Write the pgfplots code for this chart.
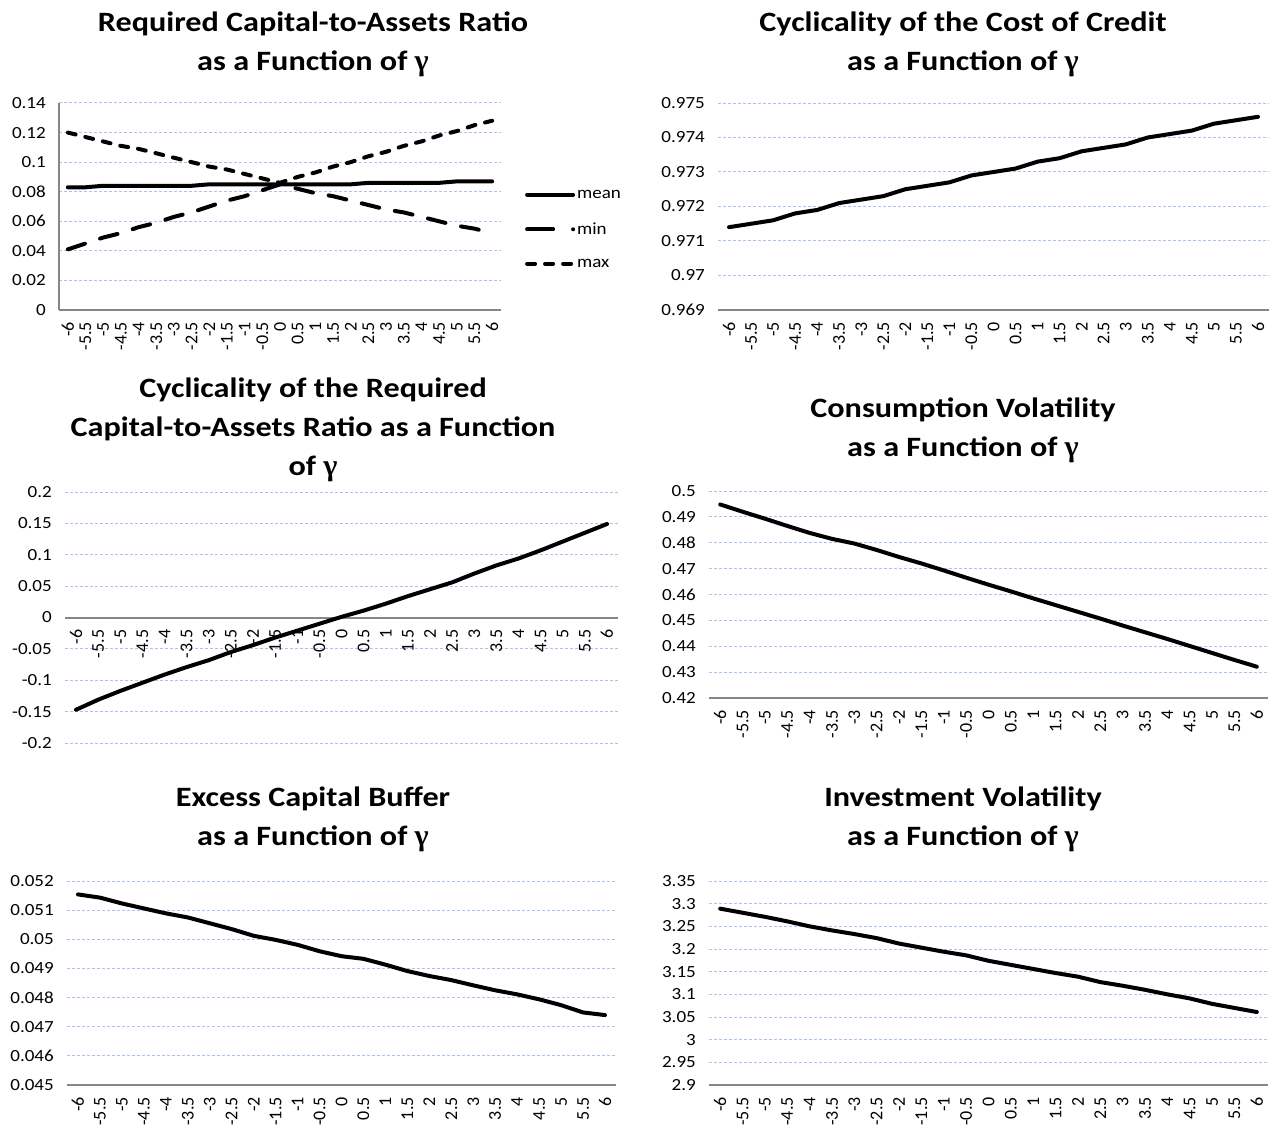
\documentclass[border=0pt]{standalone}
\usepackage{pgfplots}
\pgfplotsset{compat=1.18}
\usepackage{fontspec}
\setmainfont{Carlito}
\newfontfamily\ytf{Carlito}[FakeStretch=1.12]
\newfontfamily\xtf{Carlito}
\newfontfamily\ttf{Carlito}[FakeStretch=1.15]
\newfontfamily\gfont{Liberation Serif}
\newcommand\tickfont{\ytf\fontsize{17}{19}\selectfont}
\newcommand\xtickfont{\xtf\fontsize{18}{19}\selectfont}
\newcommand\titlefont{\ttf\fontsize{28}{39}\selectfont\bfseries}
\newcommand\gam{{\gfont\bfseries\fontsize{30}{39}\selectfont γ}}
\definecolor{gridc}{RGB}{170,195,235}
\definecolor{axc}{RGB}{134,134,134}
\pgfplotsset{
  panel/.style={
    scale only axis,
    xmin=-6.25, xmax=6.25,
    xtick={-6,-5.5,-5,-4.5,-4,-3.5,-3,-2.5,-2,-1.5,-1,-0.5,0,0.5,1,1.5,2,2.5,3,3.5,4,4.5,5,5.5,6},
    xticklabels={-6,-5.5,-5,-4.5,-4,-3.5,-3,-2.5,-2,-1.5,-1,-0.5,0,0.5,1,1.5,2,2.5,3,3.5,4,4.5,5,5.5,6},
    axis x line*=bottom,
    axis y line*=left,
    x axis line style={draw=axc, line width=2pt},
    y axis line style={draw=none},
    major tick length=0pt,
    ymajorgrids,
    scaled y ticks=false,
    grid style={draw=gridc, line width=1pt, dash pattern=on 3pt off 2pt},
    xticklabel style={rotate=90, anchor=east, font=\xtickfont, inner sep=0pt, xshift=-12pt},
    yticklabel style={font=\tickfont, inner sep=0pt, xshift=-13pt},
    anchor=north west,
    clip=false,
    cycle list={{black,mark=none,solid}},
    every axis plot/.append style={black, mark=none, line width=4pt, line join=round, line cap=round},
  }
}
\begin{document}
\begin{tikzpicture}
\path[use as bounding box] (0pt,0pt) rectangle (1274pt,-1137pt);

% Titles
\node[font=\titlefont, align=center] at (313pt,-44pt) {Required Capital-to-Assets Ratio\\as a Function of \gam};
\node[font=\titlefont, align=center] at (963pt,-44pt) {Cyclicality of the Cost of Credit\\as a Function of \gam};
\node[font=\titlefont, align=center] at (313pt,-430pt) {Cyclicality of the Required\\Capital-to-Assets Ratio as a Function\\of \gam};
\node[font=\titlefont, align=center] at (963pt,-430.5pt) {Consumption Volatility\\as a Function of \gam};
\node[font=\titlefont, align=center] at (313pt,-819.5pt) {Excess Capital Buffer\\as a Function of \gam};
\node[font=\titlefont, align=center] at (963pt,-819.5pt) {Investment Volatility\\as a Function of \gam};

% Panel 1
\begin{axis}[panel, at={(59pt,-103pt)}, width=442pt, height=207pt,
  ymin=0, ymax=0.14,
  ytick={0,0.02,0.04,0.06,0.08,0.1,0.12,0.14},
  yticklabels={0,0.02,0.04,0.06,0.08,0.1,0.12,0.14},
  y axis line style={draw=axc, line width=2pt},
  legend style={at={(1.054,0.39)}, anchor=west, draw=none, fill=none, inner sep=0pt,
    font=\tickfont, row sep=19pt, nodes={inner sep=2pt}},
  legend cell align=left,
  legend image code/.code={\draw[#1] (0pt,0pt) -- (46pt,0pt);},
]
\addplot[solid] coordinates {(-6,0.083) (-5.5,0.083) (-5,0.084) (-4.5,0.084) (-4,0.084) (-3.5,0.084) (-3,0.084) (-2.5,0.084) (-2,0.085) (-1.5,0.085) (-1,0.085) (-0.5,0.085) (0,0.085) (0.5,0.085) (1,0.085) (1.5,0.085) (2,0.085) (2.5,0.086) (3,0.086) (3.5,0.086) (4,0.086) (4.5,0.086) (5,0.087) (5.5,0.087) (6,0.087)};
\addlegendentry{mean}
\addplot[dash pattern=on 18pt off 16pt, forget plot] coordinates {(-6,0.041) (-5.5,0.045) (-5,0.049) (-4.5,0.052) (-4,0.056) (-3.5,0.059) (-3,0.063) (-2.5,0.066) (-2,0.070) (-1.5,0.074) (-1,0.077) (-0.5,0.081) (0,0.085) (0.5,0.082) (1,0.079) (1.5,0.077) (2,0.074) (2.5,0.071) (3,0.068) (3.5,0.066) (4,0.063) (4.5,0.060) (5,0.057) (5.5,0.055) (6,0.052)};
\addlegendimage{black, line width=4pt, line cap=round, dash pattern=on 26pt off 20pt on 0pt off 20pt}
\addlegendentry{min}
\addplot[dash pattern=on 8pt off 10pt] coordinates {(-6,0.120) (-5.5,0.117) (-5,0.114) (-4.5,0.111) (-4,0.109) (-3.5,0.106) (-3,0.103) (-2.5,0.100) (-2,0.097) (-1.5,0.095) (-1,0.092) (-0.5,0.089) (0,0.086) (0.5,0.090) (1,0.093) (1.5,0.097) (2,0.100) (2.5,0.104) (3,0.107) (3.5,0.111) (4,0.114) (4.5,0.118) (5,0.121) (5.5,0.125) (6,0.128)};
\addlegendentry{max}
\end{axis}

% Panel 2
\begin{axis}[panel, at={(718pt,-103pt)}, width=551pt, height=207pt,
  ymin=0.969, ymax=0.975,
  ytick={0.969,0.970,0.971,0.972,0.973,0.974,0.975},
  yticklabels={0.969,0.97,0.971,0.972,0.973,0.974,0.975},
]
\addplot coordinates {(-6,0.9714) (-5.5,0.9715) (-5,0.9716) (-4.5,0.9718) (-4,0.9719) (-3.5,0.9721) (-3,0.9722) (-2.5,0.9723) (-2,0.9725) (-1.5,0.9726) (-1,0.9727) (-0.5,0.9729) (0,0.9730) (0.5,0.9731) (1,0.9733) (1.5,0.9734) (2,0.9736) (2.5,0.9737) (3,0.9738) (3.5,0.9740) (4,0.9741) (4.5,0.9742) (5,0.9744) (5.5,0.9745) (6,0.9746)};
\end{axis}

% Panel 3
\begin{axis}[panel, at={(65pt,-492pt)}, width=553pt, height=251pt,
  ymin=-0.2, ymax=0.2,
  axis x line*=middle,
  ytick={-0.2,-0.15,-0.1,-0.05,0,0.05,0.1,0.15,0.2},
  yticklabels={-0.2,-0.15,-0.1,-0.05,0,0.05,0.1,0.15,0.2},
]
\addplot coordinates {(-6,-0.147) (-5.5,-0.131) (-5,-0.117) (-4.5,-0.104) (-4,-0.091) (-3.5,-0.079) (-3,-0.068) (-2.5,-0.055) (-2,-0.044) (-1.5,-0.032) (-1,-0.021) (-0.5,-0.010) (0,0.001) (0.5,0.011) (1,0.022) (1.5,0.034) (2,0.045) (2.5,0.056) (3,0.070) (3.5,0.083) (4,0.094) (4.5,0.107) (5,0.121) (5.5,0.135) (6,0.149)};
\end{axis}

% Panel 4
\begin{axis}[panel, at={(709pt,-491pt)}, width=559pt, height=207pt,
  ymin=0.42, ymax=0.5,
  ytick={0.42,0.43,0.44,0.45,0.46,0.47,0.48,0.49,0.5},
  yticklabels={0.42,0.43,0.44,0.45,0.46,0.47,0.48,0.49,0.5},
]
\addplot coordinates {(-6,0.4948) (-5.5,0.4920) (-5,0.4893) (-4.5,0.4865) (-4,0.4838) (-3.5,0.4815) (-3,0.4797) (-2.5,0.4772) (-2,0.4745) (-1.5,0.4720) (-1,0.4693) (-0.5,0.4665) (0,0.4638) (0.5,0.4612) (1,0.4585) (1.5,0.4559) (2,0.4533) (2.5,0.4507) (3,0.4480) (3.5,0.4454) (4,0.4428) (4.5,0.4401) (5,0.4374) (5.5,0.4347) (6,0.4321)};
\end{axis}

% Panel 5
\begin{axis}[panel, at={(67pt,-881pt)}, width=549pt, height=204pt,
  ymin=0.045, ymax=0.052,
  ytick={0.045,0.046,0.047,0.048,0.049,0.050,0.051,0.052},
  yticklabels={0.045,0.046,0.047,0.048,0.049,0.05,0.051,0.052},
]
\addplot coordinates {(-6,0.05154) (-5.5,0.05143) (-5,0.05123) (-4.5,0.05106) (-4,0.05089) (-3.5,0.05075) (-3,0.05055) (-2.5,0.05035) (-2,0.05012) (-1.5,0.04998) (-1,0.04981) (-0.5,0.04959) (0,0.04942) (0.5,0.04933) (1,0.04913) (1.5,0.04891) (2,0.04874) (2.5,0.04860) (3,0.04842) (3.5,0.04825) (4,0.04811) (4.5,0.04794) (5,0.04774) (5.5,0.04749) (6,0.04740)};
\end{axis}

% Panel 6
\begin{axis}[panel, at={(709pt,-881pt)}, width=559pt, height=204pt,
  ymin=2.9, ymax=3.35,
  ytick={2.9,2.95,3,3.05,3.1,3.15,3.2,3.25,3.3,3.35},
  yticklabels={2.9,2.95,3,3.05,3.1,3.15,3.2,3.25,3.3,3.35},
]
\addplot coordinates {(-6,3.289) (-5.5,3.280) (-5,3.271) (-4.5,3.261) (-4,3.250) (-3.5,3.241) (-3,3.233) (-2.5,3.224) (-2,3.212) (-1.5,3.203) (-1,3.194) (-0.5,3.186) (0,3.174) (0.5,3.165) (1,3.156) (1.5,3.147) (2,3.139) (2.5,3.127) (3,3.119) (3.5,3.110) (4,3.100) (4.5,3.091) (5,3.079) (5.5,3.070) (6,3.061)};
\end{axis}
\end{tikzpicture}
\end{document}
